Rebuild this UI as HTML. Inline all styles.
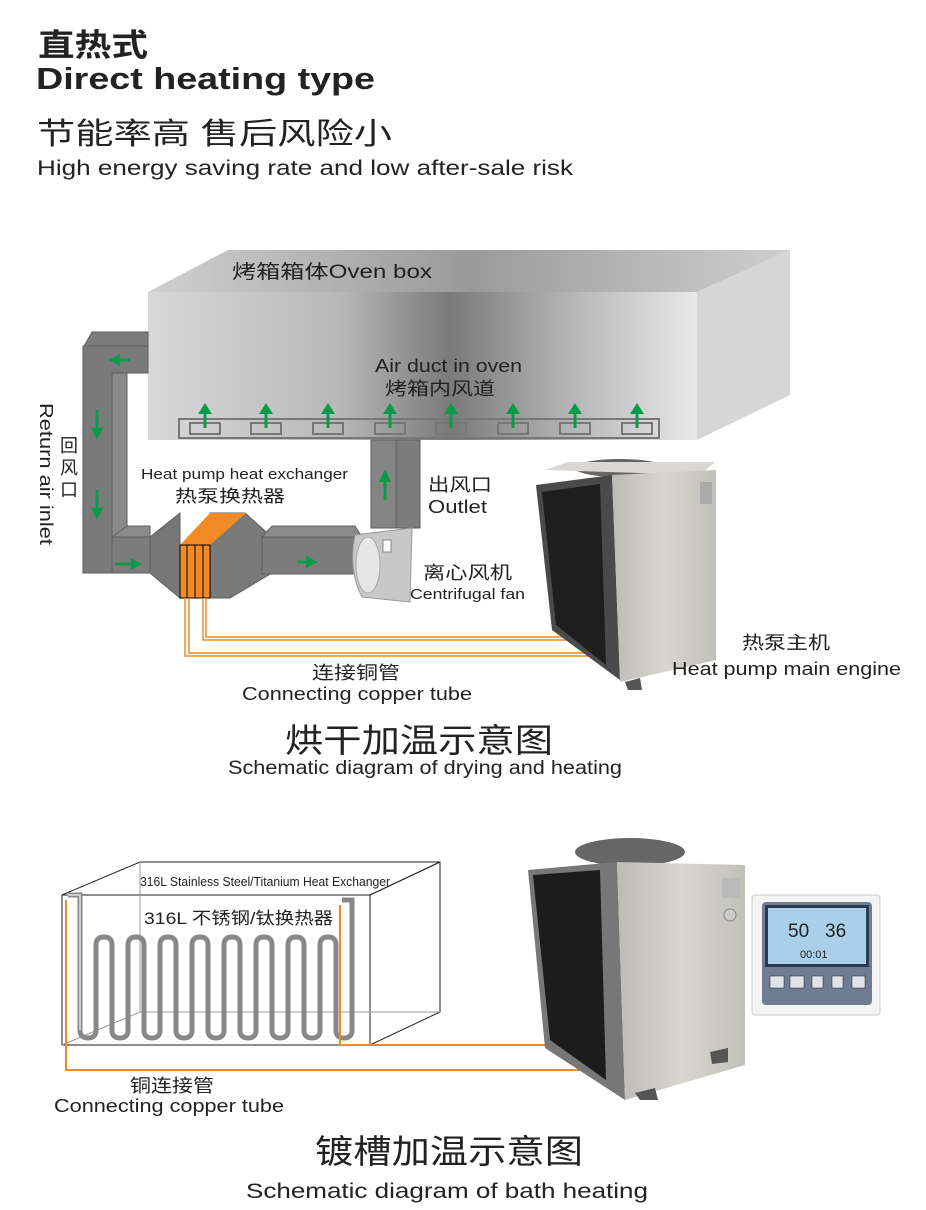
<!DOCTYPE html>
<html><head><meta charset="utf-8"><style>
html,body{margin:0;padding:0;background:#fff;}
svg{display:block;}
text{font-family:"Liberation Sans","Noto Sans CJK SC",sans-serif;fill:#222;}
</style></head><body>
<svg width="926" height="1210" viewBox="0 0 926 1210" xmlns="http://www.w3.org/2000/svg">
<defs>
<linearGradient id="ov" x1="0" y1="0" x2="1" y2="0">
<stop offset="0" stop-color="#d8d8d8"/><stop offset="0.35" stop-color="#b8b8b8"/><stop offset="0.55" stop-color="#7a7a7a"/><stop offset="0.8" stop-color="#bdbdbd"/><stop offset="1" stop-color="#e8e8e8"/></linearGradient>
<linearGradient id="ovt" x1="0" y1="0" x2="1" y2="0">
<stop offset="0" stop-color="#d0d0d0"/><stop offset="0.5" stop-color="#9a9a9a"/><stop offset="1" stop-color="#cfcfcf"/></linearGradient>
<linearGradient id="met" x1="0" y1="0" x2="1" y2="0">
<stop offset="0" stop-color="#bdbbb6"/><stop offset="0.5" stop-color="#d8d6d1"/><stop offset="1" stop-color="#c2c0bb"/></linearGradient>
</defs>

<!-- Titles -->
<text x="38" y="56" font-size="31" font-weight="bold" fill="#111" textLength="110" lengthAdjust="spacingAndGlyphs">直热式</text>
<text x="36" y="89" font-size="31" font-weight="bold" fill="#111" textLength="339" lengthAdjust="spacingAndGlyphs">Direct heating type</text>
<text x="37" y="144" font-size="30" fill="#111" textLength="355" lengthAdjust="spacingAndGlyphs">节能率高  售后风险小</text>
<text x="37" y="175" font-size="21" fill="#111" textLength="536" lengthAdjust="spacingAndGlyphs">High energy saving rate and low after-sale risk</text>

<!-- Oven box -->
<polygon points="148,292 228,250 790,250 697,292" fill="url(#ovt)"/>
<polygon points="697,292 790,250 790,395 697,440" fill="#d6d6d6"/>
<rect x="148" y="292" width="549" height="148" fill="url(#ov)"/>
<text x="232" y="278" font-size="19" textLength="200" lengthAdjust="spacingAndGlyphs">烤箱箱体Oven box</text>
<text x="375" y="372" font-size="18" textLength="147" lengthAdjust="spacingAndGlyphs">Air duct in oven</text>
<text x="385" y="395" font-size="18" textLength="110" lengthAdjust="spacingAndGlyphs">烤箱内风道</text>
<!-- vent strip -->
<rect x="179" y="419" width="480" height="19" fill="none" stroke="#777" stroke-width="2"/>
<g fill="none" stroke="#777" stroke-width="2">
<rect x="190" y="423" width="30" height="11"/><rect x="251" y="423" width="30" height="11"/><rect x="313" y="423" width="30" height="11"/><rect x="375" y="423" width="30" height="11"/><rect x="436" y="423" width="30" height="11"/><rect x="498" y="423" width="30" height="11"/><rect x="560" y="423" width="30" height="11"/><rect x="622" y="423" width="30" height="11"/></g>
<g stroke="#0a9a48" stroke-width="3" fill="#0a9a48">
<line x1="205" y1="428" x2="205" y2="412"/><polygon points="198,414 212,414 205,403" stroke="none"/>
<line x1="266" y1="428" x2="266" y2="412"/><polygon points="259,414 273,414 266,403" stroke="none"/>
<line x1="328" y1="428" x2="328" y2="412"/><polygon points="321,414 335,414 328,403" stroke="none"/>
<line x1="390" y1="428" x2="390" y2="412"/><polygon points="383,414 397,414 390,403" stroke="none"/>
<line x1="451" y1="428" x2="451" y2="412"/><polygon points="444,414 458,414 451,403" stroke="none"/>
<line x1="513" y1="428" x2="513" y2="412"/><polygon points="506,414 520,414 513,403" stroke="none"/>
<line x1="575" y1="428" x2="575" y2="412"/><polygon points="568,414 582,414 575,403" stroke="none"/>
<line x1="637" y1="428" x2="637" y2="412"/><polygon points="630,414 644,414 637,403" stroke="none"/>
</g>

<!-- Ducts -->
<g fill="#7c7c7c" stroke="#5e5e5e" stroke-width="1">
<polygon points="92,332 148,332 148,348 83,348"/>
<rect x="83" y="346" width="29" height="227"/>
<polygon points="83,346 148,346 148,373 127,373 112,373 112,573 83,573" fill="#7a7a7a"/>
<rect x="112" y="373" width="15" height="164" fill="#8a8a8a"/>
<polygon points="112,537 127,526 150,526 150,537" fill="#8a8a8a"/>
<rect x="112" y="537" width="40" height="36"/>
<polygon points="150,537 180,513 180,598 150,573" fill="#777"/>
<polygon points="210,513 245,513 272,537 272,573 230,598 210,598" fill="#7a7a7a"/>
<rect x="262" y="537" width="100" height="37"/>
<polygon points="262,537 272,526 355,526 362,537" fill="#8a8a8a"/>
<rect x="371" y="440" width="49" height="88"/>
<rect x="371" y="440" width="25" height="88" fill="#858585"/>
</g>
<polygon points="180,545 210,513 246,513 210,545" fill="#f28a25"/>
<g stroke="#000" stroke-width="1" fill="#f28a25">
<rect x="180" y="545" width="7" height="53"/><rect x="187" y="545" width="8" height="53"/><rect x="195" y="545" width="8" height="53"/><rect x="203" y="545" width="7" height="53"/></g>
<!-- fan -->
<path d="M355,535 Q348,570 362,597 L410,602 L412,528 Z" fill="#c8c8c8" stroke="#999"/>
<ellipse cx="368" cy="565" rx="12" ry="28" fill="#e6e6e6" stroke="#aaa"/>
<rect x="383" y="540" width="8" height="12" fill="#fff" stroke="#888"/>
<g stroke="#0a9a48" stroke-width="3" fill="#0a9a48">
<line x1="130" y1="360" x2="118" y2="360"/><polygon points="120,354 120,366 109,360" stroke="none"/>
<line x1="97" y1="410" x2="97" y2="430"/><polygon points="91,428 103,428 97,440" stroke="none"/>
<line x1="97" y1="490" x2="97" y2="510"/><polygon points="91,508 103,508 97,520" stroke="none"/>
<line x1="115" y1="564" x2="133" y2="564"/><polygon points="131,558 131,570 142,564" stroke="none"/>
<line x1="298" y1="562" x2="308" y2="562"/><polygon points="306,556 306,568 318,562" stroke="none"/>
<line x1="385" y1="500" x2="385" y2="480"/><polygon points="379,482 391,482 385,469" stroke="none"/>
</g>
<g fill="none" stroke="#f28a25" stroke-width="1.5">
<polyline points="185,598 185,656 600,656"/><polyline points="189,598 189,653 600,653"/>
<polyline points="203,598 203,640 600,640"/><polyline points="206,598 206,637 600,637"/>
</g>
<text x="0" y="0" font-size="18" transform="translate(40,403) rotate(90)" textLength="142" lengthAdjust="spacingAndGlyphs">Return air inlet</text>
<text x="60" y="452" font-size="18">回</text><text x="60" y="474" font-size="18">风</text><text x="60" y="496" font-size="18">口</text>
<text x="141" y="479" font-size="15" textLength="207" lengthAdjust="spacingAndGlyphs">Heat pump heat exchanger</text>
<text x="175" y="502" font-size="17" textLength="110" lengthAdjust="spacingAndGlyphs">热泵换热器</text>
<text x="428" y="491" font-size="18" textLength="64" lengthAdjust="spacingAndGlyphs">出风口</text>
<text x="428" y="513" font-size="18" textLength="59" lengthAdjust="spacingAndGlyphs">Outlet</text>
<text x="423" y="579" font-size="18" textLength="89" lengthAdjust="spacingAndGlyphs">离心风机</text>
<text x="410" y="599" font-size="15" textLength="115" lengthAdjust="spacingAndGlyphs">Centrifugal fan</text>

<!-- Heat pump unit 1 -->
<ellipse cx="620" cy="468" rx="45" ry="9" fill="#666"/>
<polygon points="545,470 568,462 715,462 700,475" fill="#d8d7d3"/>
<polygon points="536,485 612,475 620,680 552,630" fill="#4a4a4a"/>
<polygon points="542,492 600,484 606,665 556,625" fill="#1e1e1e"/>
<polygon points="612,475 716,470 716,660 620,682" fill="url(#met)"/>
<rect x="700" y="482" width="12" height="22" fill="#aaa"/>
<polygon points="625,682 640,678 642,690 628,690" fill="#555"/>
<text x="742" y="649" font-size="18" textLength="88" lengthAdjust="spacingAndGlyphs">热泵主机</text>
<text x="672" y="675" font-size="18" textLength="229" lengthAdjust="spacingAndGlyphs">Heat pump main engine</text>
<text x="312" y="679" font-size="18" textLength="88" lengthAdjust="spacingAndGlyphs">连接铜管</text>
<text x="242" y="700" font-size="18" textLength="230" lengthAdjust="spacingAndGlyphs">Connecting copper tube</text>
<text x="285" y="752" font-size="33" textLength="268" lengthAdjust="spacingAndGlyphs">烘干加温示意图</text>
<text x="228" y="774" font-size="19" textLength="394" lengthAdjust="spacingAndGlyphs">Schematic diagram of drying and heating</text>

<!-- Tank -->
<g fill="none" stroke="#222" stroke-width="1">
<polygon points="62,895 140,862 440,862 370,895"/>
<rect x="62" y="895" width="308" height="150"/>
<polyline points="370,895 440,862 440,1012 370,1045"/>
<polyline points="62,1045 140,1012 440,1012" stroke="#999"/>
<line x1="140" y1="862" x2="140" y2="1012" stroke="#999"/>
</g>
<text x="140" y="886" font-size="13" textLength="250" lengthAdjust="spacingAndGlyphs">316L Stainless Steel/Titanium Heat Exchanger</text>
<text x="144" y="924" font-size="17" textLength="189" lengthAdjust="spacingAndGlyphs">316L 不锈钢/钛换热器</text>
<path d="M68,895 L80,895 L80,1030 Q80,1038 88,1038 Q96,1038 96,1030 L96,945 Q96,937 104,937 Q112,937 112,945 L112,1030 Q112,1038 120,1038 Q128,1038 128,1030 L128,945 Q128,937 136,937 Q144,937 144,945 L144,1030 Q144,1038 152,1038 Q160,1038 160,1030 L160,945 Q160,937 168,937 Q176,937 176,945 L176,1030 Q176,1038 184,1038 Q192,1038 192,1030 L192,945 Q192,937 200,937 Q208,937 208,945 L208,1030 Q208,1038 216,1038 Q224,1038 224,1030 L224,945 Q224,937 232,937 Q240,937 240,945 L240,1030 Q240,1038 248,1038 Q256,1038 256,1030 L256,945 Q256,937 264,937 Q272,937 272,945 L272,1030 Q272,1038 280,1038 Q288,1038 288,1030 L288,945 Q288,937 296,937 Q304,937 304,945 L304,1030 Q304,1038 312,1038 Q320,1038 320,1030 L320,945 Q320,937 328,937 Q336,937 336,945 L336,1030 Q336,1038 344,1038 Q352,1038 352,1030 L352,900 L342,900" fill="none" stroke="#888" stroke-width="5"/>
<path d="M68,895 L80,895 L80,1030" fill="none" stroke="#ccc" stroke-width="2"/>
<g fill="none" stroke="#f28a25" stroke-width="2">
<polyline points="66,900 66,1070 600,1070"/>
<polyline points="340,905 340,1045 600,1045"/>
</g>
<text x="130" y="1092" font-size="18" textLength="84" lengthAdjust="spacingAndGlyphs">铜连接管</text>
<text x="54" y="1112" font-size="18" textLength="230" lengthAdjust="spacingAndGlyphs">Connecting copper tube</text>
<text x="315" y="1163" font-size="33" textLength="268" lengthAdjust="spacingAndGlyphs">镀槽加温示意图</text>
<text x="246" y="1198" font-size="21" textLength="402" lengthAdjust="spacingAndGlyphs">Schematic diagram of bath heating</text>

<!-- Heat pump unit 2 -->
<ellipse cx="630" cy="852" rx="55" ry="14" fill="#666"/>
<polygon points="528,870 617,862 625,1100 545,1048" fill="#777"/>
<polygon points="533,875 600,870 606,1080 550,1040" fill="#1c1c1c"/>
<polygon points="617,862 745,865 745,1065 625,1100" fill="url(#met)"/>
<rect x="722" y="878" width="18" height="20" fill="#bbb"/>
<circle cx="730" cy="915" r="6" fill="#ccc" stroke="#888"/>
<polygon points="635,1093 655,1088 658,1100 640,1100" fill="#555"/>
<polygon points="710,1052 728,1048 728,1062 712,1064" fill="#555"/>
<!-- controller -->
<rect x="752" y="895" width="128" height="120" rx="3" fill="#f4f4f4" stroke="#ccc"/>
<rect x="762" y="902" width="110" height="103" rx="4" fill="#6e7d92"/>
<rect x="765" y="905" width="104" height="62" fill="#2b3a52"/>
<rect x="768" y="908" width="98" height="56" fill="#a9d0e8"/>
<text x="788" y="937" font-size="19" fill="#1a2a4a">50</text>
<text x="825" y="937" font-size="19" fill="#1a2a4a">36</text>
<text x="800" y="958" font-size="11" fill="#1a2a4a">00:01</text>
<g fill="#dfe3ea" stroke="#222" stroke-width="0.5">
<rect x="770" y="976" width="14" height="12"/><rect x="790" y="976" width="14" height="12"/><rect x="812" y="976" width="11" height="12"/><rect x="832" y="976" width="11" height="12"/><rect x="852" y="976" width="13" height="12"/></g>
</svg>
</body></html>
